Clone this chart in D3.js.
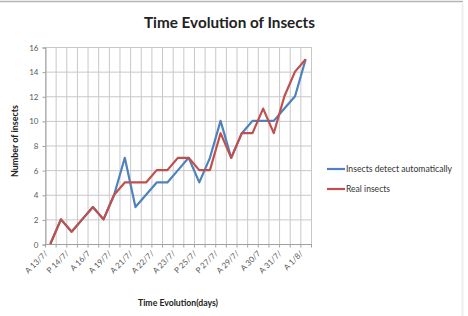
<!DOCTYPE html>
<html><head><meta charset="utf-8">
<script src="https://cdn.jsdelivr.net/npm/d3@7"></script>
<style>body{margin:0;background:#fff}svg{display:block}text{font-family:Lato,"Open Sans",sans-serif}</style>
</head><body><svg id="c" width="468" height="316"></svg>
<script>
const tickLabels = ["A 13/7/","P 14/7/","A 16/7","A 19/7/","A 21/7/","A 22/7/","A 23/7/","P 25/7/","P 27/7/","A 29/7/","A 30/7","A 31/7/","A 1/8/"];
const detected = [0,2,1,2,3,2,4,7,3,4,5,5,6,7,5,7,10,7,9,10,10,10,11,12,15];
const real     = [0,2,1,2,3,2,4,5,5,5,6,6,7,7,6,6,9,7,9,9,11,9,12,14,15];
const seriesNames = ["Insects detect automatically","Real insects"];
const yTicks = [0,2,4,6,8,10,12,14,16];

const svg = d3.select("#c");
const L=45,R=311,T=47,B=244;
const n = detected.length;
const x = d3.scaleBand().domain(d3.range(n)).range([L,R]);
const y = d3.scaleLinear().domain([0,16]).range([B,T]);
const cx = i => x(i)+x.bandwidth()/2;

// frame
svg.append("line").attr("x1",0).attr("x2",463).attr("y1",1.5).attr("y2",1.5).attr("stroke","#b4b4b4").attr("stroke-width",1.5);
svg.append("line").attr("x1",462.5).attr("x2",462.5).attr("y1",4).attr("y2",316).attr("stroke","#eeeeee").attr("stroke-width",2);

// gridlines
const g = svg.append("g");
g.selectAll("line.h").data(yTicks).join("line").attr("x1",L).attr("x2",R)
 .attr("y1",d=>y(d)+0.5).attr("y2",d=>y(d)+0.5).attr("stroke","#c8c8c8");
const bounds = d3.range(n+1).map(k=> k<n ? x(k) : R);
g.selectAll("line.v").data(bounds).join("line").attr("x1",d=>d+0.5).attr("x2",d=>d+0.5)
 .attr("y1",T).attr("y2",B).attr("stroke","#c8c8c8");

// axes
const yAxis = d3.axisLeft(y).tickValues(yTicks).tickSize(3).tickPadding(4);
const ya = svg.append("g").attr("transform",`translate(${L+0.5},0.5)`).call(yAxis);
ya.select(".domain").attr("stroke","#a0a0a0");
ya.selectAll(".tick line").attr("stroke","#a0a0a0");
ya.selectAll("text").attr("fill","#595959").style("font-size","8px");

// x ticks between categories
svg.selectAll("line.xt").data(bounds).join("line").attr("x1",d=>d+0.5).attr("x2",d=>d+0.5)
 .attr("y1",B).attr("y2",B+3.5).attr("stroke","#a0a0a0");
svg.append("line").attr("x1",L).attr("x2",R).attr("y1",B+0.5).attr("y2",B+0.5).attr("stroke","#a0a0a0");

const xAxis = d3.axisBottom(x).tickValues(d3.range(0,n,2)).tickSize(0).tickFormat(d=>tickLabels[d/2]);
const xa = svg.append("g").attr("transform",`translate(0,${B})`).call(xAxis);
xa.select(".domain").remove();
xa.selectAll("text").attr("fill","#595959").style("font-size","8px")
  .attr("text-anchor","end").attr("dy",0).attr("y",0)
  .attr("transform","translate(-2,10) rotate(-45)");

// lines
const line = d3.line().x((d,i)=>cx(i)).y(d=>y(d));
const colors = ["#4F81BD","#C0504D"];
[detected, real].forEach((s,k)=>{
  svg.append("path").datum(s).attr("d",line).attr("fill","none")
    .attr("stroke",colors[k]).attr("stroke-width",2.2).attr("stroke-linejoin","round");
});

// titles
svg.append("text").attr("x",229.5).attr("y",28).attr("text-anchor","middle")
  .style("font-size","15px").style("font-weight","bold").attr("fill","#222")
  .attr("textLength",171).attr("lengthAdjust","spacingAndGlyphs").text("Time Evolution of Insects");
svg.append("text").attr("x",178).attr("y",306).attr("text-anchor","middle")
  .style("font-size","8.5px").style("font-weight","bold").attr("fill","#222")
  .attr("textLength",80).attr("lengthAdjust","spacingAndGlyphs").text("Time Evolution(days)");
svg.append("text").attr("transform","translate(18,141) rotate(-90)").attr("text-anchor","middle")
  .style("font-size","8.5px").style("font-weight","bold").attr("fill","#222")
  .attr("textLength",72).attr("lengthAdjust","spacingAndGlyphs").text("Number of insects");

// legend
const lg = svg.append("g");
const ly = [169,189], lw=[106,44];
seriesNames.forEach((nm,k)=>{
  lg.append("line").attr("x1",327).attr("x2",345).attr("y1",ly[k]).attr("y2",ly[k])
    .attr("stroke",colors[k]).attr("stroke-width",2.2);
  lg.append("text").attr("x",346).attr("y",ly[k]+3).style("font-size","8.5px").attr("fill","#333")
    .attr("textLength",lw[k]).attr("lengthAdjust","spacingAndGlyphs").text(nm);
});
</script></body></html>
